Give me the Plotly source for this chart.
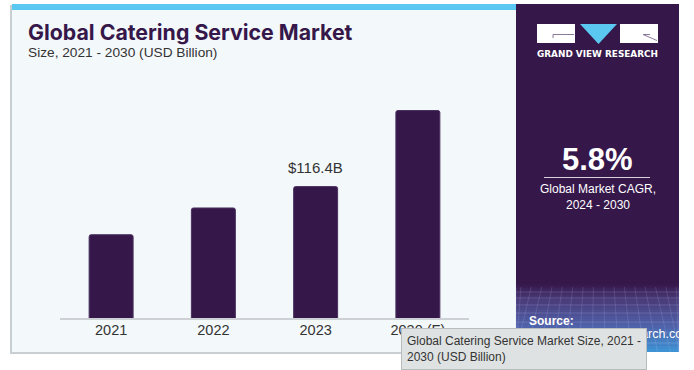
import plotly.graph_objects as go

# ---- data ----
years = ["2021", "2022", "2023", "2030 (F)"]
market_size = [74.1, 97.6, 116.4, 183.3]
bar_labels = ["", "", "$116.4B", ""]
cagr_text = "5.8%"
cagr_caption = "Global Market CAGR,<br>2024 - 2030"
title_text = "Global Catering Service Market"
subtitle_text = "Size, 2021 - 2030 (USD Billion)"
tooltip_text = "Global Catering Service Market Size, 2021 -<br>2030 (USD Billion)"

W, H = 694, 370
L, R, T, B = 60, 225, 60, 51
PW, PH = W - L - R, H - T - B

def X(px):
    return (px - L) / PW

def Y(py):
    return (H - B - py) / PH

PURPLE = "#36174A"
CARD = "#F3F8FB"

fig = go.Figure()
fig.add_trace(go.Bar(
    x=years, y=market_size,
    marker=dict(color=PURPLE, line=dict(color="#4A3160", width=1), cornerradius=2),
    width=0.43, hoverinfo="skip",
))

shapes = []
def rect(x0, y0, x1, y1, color, line=None, layer="below"):
    shapes.append(dict(type="rect", xref="paper", yref="paper",
                       x0=X(x0), x1=X(x1), y0=Y(y1), y1=Y(y0),
                       fillcolor=color, line=line or dict(width=0), layer=layer))

def seg(x0, y0, x1, y1, color, width=1, layer="below"):
    shapes.append(dict(type="line", xref="paper", yref="paper",
                       x0=X(x0), x1=X(x1), y0=Y(y0), y1=Y(y1),
                       line=dict(color=color, width=width), layer=layer))

# card shadow + card
rect(10, 5, 518, 354, "#C9CED2")
rect(12, 5, 518, 352, CARD)
rect(12, 4, 518, 10, "#5BC8F2")
# right purple panel
rect(516, 4, 679, 352, PURPLE)
# gradient bottom of panel
def lerp(c1, c2, t):
    return "#%02X%02X%02X" % tuple(int(round(a + (b - a) * t)) for a, b in zip(c1, c2))
stops = [(284, (0x36, 0x17, 0x4A)), (300, (0x4A, 0x3C, 0x7A)), (325, (0x50, 0x60, 0xA8)), (352, (0x3E, 0x95, 0xD6))]
for i in range(len(stops) - 1):
    ya, ca = stops[i]
    yb, cb = stops[i + 1]
    n = 8
    for k in range(n):
        y0 = ya + (yb - ya) * k / n
        y1 = ya + (yb - ya) * (k + 1) / n + 0.6
        rect(516, y0, 679, min(y1, 352), lerp(ca, cb, (k + 0.5) / n))
# faint grid on gradient
for gy in [292, 298, 305, 313, 322, 332, 343]:
    seg(516, gy, 679, gy, "rgba(200,210,255,0.18)")
for gx in range(522, 679, 9):
    x_top = gx + (gx - 598) * 0.15
    x_bot = gx + (gx - 598) * 0.45
    x_top = min(max(x_top, 516), 679)
    x_bot = min(max(x_bot, 516), 679)
    seg(x_top, 287, x_bot, 352, "rgba(200,210,255,0.15)")

# logo
rect(537, 24, 575, 43, "white", layer="above")
rect(620, 24, 658, 43, "white", layer="above")
shapes.append(dict(type="path", xref="paper", yref="paper",
                   path=f"M {X(580)},{Y(24)} L {X(617)},{Y(24)} L {X(598.5)},{Y(44)} Z",
                   fillcolor="#5BC8F2", line=dict(width=0), layer="above"))
seg(553, 34.5, 574, 34.5, "#8A7A99", 1, "above")
seg(553, 34.5, 553, 38, "#8A7A99", 1, "above")
seg(643, 34.5, 657, 40.5, "#8A7A99", 1, "above")
seg(643, 34.5, 650, 34.5, "#8A7A99", 1, "above")
# CAGR divider line
seg(544, 177.5, 650, 177.5, "#D8D0E0", 1.2, "above")
# axis baseline
seg(60, 319, 469, 319, "#CDD0D4", 2, "above")

annotations = []
def text(x, y, s, size, color, xanchor="left", family="Liberation Sans, Arial, sans-serif",
         weight=None, bg=None, border=None, align="left"):
    f = dict(size=size, color=color, family=family)
    if weight:
        f["weight"] = weight
    a = dict(xref="paper", yref="paper", x=X(x), y=Y(y), text=s, showarrow=False,
             xanchor=xanchor, yanchor="middle", font=f, align=align)
    if bg:
        a.update(bgcolor=bg, bordercolor=border, borderwidth=1, borderpad=5)
    annotations.append(a)

text(26, 32, f"<b>{title_text}</b>", 21.3, PURPLE, family="Inter, Roboto, sans-serif", weight=900)
text(26, 52, subtitle_text, 13.7, "#333333")

# bar label from data (category index position)
for i, (yv, lab) in enumerate(zip(market_size, bar_labels)):
    if lab:
        annotations.append(dict(x=i, y=yv, xref="x", yref="y", text=lab, showarrow=False,
                                yanchor="bottom", yshift=9,
                                font=dict(size=15, color="#333333",
                                          family="Liberation Sans, Arial, sans-serif")))

text(597.5, 54.5, "<b>GRAND VIEW RESEARCH</b>", 8.9, "white", xanchor="center",
     family="DejaVu Sans, sans-serif")
text(597.5, 159, f"<b>{cagr_text}</b>", 31, "white", xanchor="center")
text(597.5, 197, cagr_caption, 12, "white", xanchor="center", align="center")
text(527, 320.5, "<b>Source:</b>", 12, "white")
text(527, 334, "www.grandviewresearch.com", 12.5, "white")

# bottom page text (mostly cut off)
annotations.append(dict(xref="paper", yref="paper", x=X(149), y=Y(366.5), xanchor="left",
                        yanchor="top", showarrow=False,
                        text="To learn more about this report, <span style='color:#1a0dab'>request a free sample</span>",
                        font=dict(size=15, color="#222222", family="Liberation Sans, Arial, sans-serif")))

# browser tooltip
text(401, 349, tooltip_text, 12, "#333333", bg="#DFE2E2", border="#B9BCBC")

fig.update_layout(
    width=W, height=H, margin=dict(l=L, r=R, t=T, b=B),
    paper_bgcolor="white", plot_bgcolor="rgba(0,0,0,0)",
    showlegend=False, bargap=0.57,
    shapes=shapes, annotations=annotations,
    xaxis=dict(type="category", range=[-0.5, 3.5], showgrid=False, showline=False, zeroline=False,
               ticks="",
               tickfont=dict(size=14.5, color="#333333", family="Liberation Sans, Arial, sans-serif"),
               fixedrange=True),
    yaxis=dict(range=[0, 183.3 * PH / 208.5], visible=False, fixedrange=True),
)

fig.write_html("out.html", config=dict(displayModeBar=False),
               post_script="document.body.style.margin='0';document.body.style.overflow='hidden';")
